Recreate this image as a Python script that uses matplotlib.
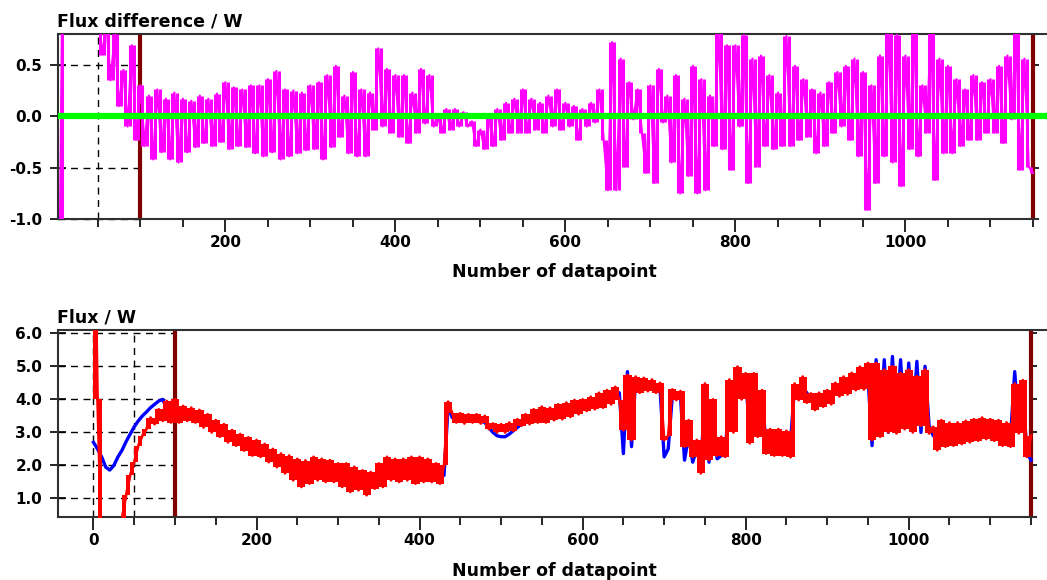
import numpy as np
import matplotlib.pyplot as plt
from matplotlib.ticker import MultipleLocator, FormatStrFormatter

plt.rcParams['font.family'] = 'DejaVu Sans'
plt.rcParams['font.weight'] = 'bold'
plt.rcParams['axes.unicode_minus'] = False

# one stored sample every STEP datapoints, starting at datapoint 0
STEP = 5

# measured minus calculated flux / W
flux_diff = [
    -4.0, -1.5, 2.8, 2.5, 2.2, 2.0, 1.8, 1.6, 1.4, 1.2,
    1.0, 0.6, 0.9, 0.35, 0.8, 0.1, 0.45, -0.1, 0.69, -0.23,
    0.3, -0.29, 0.2, -0.42, 0.26, -0.35, 0.17, -0.42, 0.23, -0.45,
    0.17, -0.35, 0.15, -0.3, 0.2, -0.26, 0.17, -0.29, 0.22, -0.25,
    0.33, -0.32, 0.28, -0.29, 0.26, -0.3, 0.3, -0.36, 0.3, -0.39,
    0.36, -0.35, 0.44, -0.42, 0.26, -0.39, 0.25, -0.36, 0.23, -0.33,
    0.3, -0.32, 0.33, -0.42, 0.4, -0.3, 0.49, -0.2, 0.2, -0.36,
    0.43, -0.39, 0.26, -0.39, 0.23, -0.13, 0.66, -0.1, 0.46, -0.16,
    0.4, -0.2, 0.4, -0.26, 0.23, -0.16, 0.46, -0.07, 0.4, -0.1,
    0.0, -0.16, 0.07, -0.13, 0.07, -0.1, 0.04, -0.1, -0.05, -0.29,
    -0.13, -0.32, 0.0, -0.29, 0.07, -0.23, 0.13, -0.16, 0.17, -0.16,
    0.26, -0.16, 0.17, -0.13, 0.13, -0.16, 0.2, -0.1, 0.26, -0.13,
    0.13, -0.1, 0.1, -0.23, 0.07, -0.1, 0.13, -0.06, 0.26, -0.23,
    -0.72, 0.72, -0.72, 0.56, -0.49, 0.33, -0.03, 0.26, -0.16, -0.55,
    0.3, -0.65, 0.46, -0.06, 0.2, -0.45, 0.4, -0.75, 0.17, -0.58,
    0.49, -0.75, 0.36, -0.72, 0.2, -0.29, 0.85, -0.32, 0.69, -0.52,
    0.69, -0.1, 0.79, -0.65, 0.56, -0.49, 0.59, -0.29, 0.4, -0.32,
    0.23, -0.29, 0.78, -0.29, 0.49, -0.23, 0.36, -0.2, 0.26, -0.36,
    0.23, -0.29, 0.33, -0.16, 0.43, -0.1, 0.49, -0.23, 0.56, -0.39,
    0.43, -0.91, 0.3, -0.65, 0.59, -0.39, 0.85, -0.45, 0.79, -0.68,
    0.59, -0.32, 0.85, -0.39, 0.3, -0.16, 0.85, -0.62, 0.56, -0.36,
    0.49, -0.36, 0.36, -0.29, 0.26, -0.23, 0.4, -0.23, 0.33, -0.16,
    0.36, -0.16, 0.49, -0.26, 0.59, -0.03, 0.85, -0.52, 0.56, -0.49,
    -0.55,
]

# calculated flux / W (red)
flux_calc = [
    12.0, 4.0, -0.5, -1.0, -1.0, -0.8, -0.2, 0.4, 1.1, 1.7,
    2.1, 2.6, 2.9, 3.1, 3.45, 3.25, 3.7, 3.35, 3.95, 3.3,
    4.0, 3.3, 3.8, 3.35, 3.75, 3.3, 3.68, 3.15, 3.55, 3.0,
    3.37, 2.87, 3.25, 2.7, 3.07, 2.6, 2.95, 2.45, 2.85, 2.3,
    2.77, 2.26, 2.65, 2.1, 2.5, 1.95, 2.36, 1.76, 2.3, 1.55,
    2.2, 1.35, 2.15, 1.45, 2.26, 1.55, 2.2, 1.5, 2.16, 1.5,
    2.06, 1.35, 2.06, 1.2, 1.96, 1.25, 1.85, 1.1, 1.8, 1.3,
    2.06, 1.35, 2.26, 1.55, 2.2, 1.5, 2.2, 1.55, 2.26, 1.45,
    2.26, 1.5, 2.2, 1.5, 2.06, 1.45, 2.0, 3.93, 3.58, 3.3,
    3.58, 3.27, 3.55, 3.3, 3.55, 3.27, 3.5, 3.1, 3.27, 3.0,
    3.25, 3.0, 3.3, 3.05, 3.4, 3.2, 3.55, 3.25, 3.7, 3.3,
    3.78, 3.3, 3.75, 3.37, 3.85, 3.4, 3.9, 3.47, 3.98, 3.55,
    4.0, 3.65, 4.08, 3.7, 4.2, 3.75, 4.28, 3.85, 4.38, 3.98,
    3.07, 4.74, 2.77, 4.69, 4.2, 4.65, 4.25, 4.6, 4.2, 4.5,
    2.77, 2.9, 4.3, 3.98, 4.25, 2.57, 3.37, 2.26, 2.77, 1.76,
    4.48, 2.16, 4.0, 2.3, 2.87, 2.26, 4.6, 3.0, 4.99, 4.0,
    4.79, 2.67, 4.79, 2.87, 4.28, 2.36, 3.1, 2.3, 3.1, 2.3,
    3.05, 2.25, 4.48, 3.98, 4.69, 3.9, 4.18, 3.68, 4.2, 3.78,
    4.28, 3.85, 4.5, 4.09, 4.69, 4.15, 4.8, 4.28, 4.99, 4.3,
    5.1, 2.77, 5.1, 2.87, 4.9, 3.0, 5.0, 2.97, 4.8, 3.1,
    4.9, 3.0, 4.7, 3.2, 4.9, 2.97, 3.17, 2.46, 3.37, 2.57,
    3.3, 2.6, 3.3, 2.65, 3.35, 2.7, 3.4, 2.75, 3.45, 2.8,
    3.4, 2.75, 3.37, 2.6, 3.3, 2.57, 4.48, 2.97, 4.58, 2.26,
    2.9,
]

# measured flux / W (blue)
flux_meas = [
    2.7, 2.5, 2.26, 1.95, 1.86, 2.0, 2.26, 2.46, 2.72, 2.95,
    3.17, 3.35, 3.5, 3.62, 3.75, 3.85, 3.95, 4.0, 3.7, 3.65,
    3.65, 3.6, 3.55, 3.55, 3.5, 3.5, 3.45, 3.4, 3.3, 3.25,
    3.1, 3.05, 3.0, 2.9, 2.85, 2.8, 2.7, 2.65, 2.6, 2.55,
    2.5, 2.45, 2.4, 2.3, 2.2, 2.15, 2.05, 2.0, 1.95, 1.9,
    1.8, 1.75, 1.8, 1.85, 1.9, 1.85, 1.85, 1.8, 1.8, 1.75,
    1.7, 1.7, 1.65, 1.6, 1.6, 1.55, 1.5, 1.45, 1.55, 1.6,
    1.7, 1.8, 1.85, 1.9, 1.85, 1.85, 1.9, 1.9, 1.85, 1.85,
    1.85, 1.85, 1.8, 1.8, 1.75, 1.7, 1.7, 3.8, 3.45, 3.4,
    3.4, 3.4, 3.4, 3.4, 3.4, 3.35, 3.3, 3.15, 3.0, 2.9,
    2.87, 2.87, 2.95, 3.05, 3.15, 3.25, 3.35, 3.4, 3.45, 3.5,
    3.5, 3.55, 3.55, 3.6, 3.6, 3.65, 3.7, 3.75, 3.75, 3.8,
    3.8, 3.85, 3.9, 3.9, 3.95, 4.0, 4.05, 4.1, 4.15, 4.2,
    2.36, 4.84, 2.57, 4.6, 4.5, 4.5, 4.45, 4.4, 4.4, 4.3,
    2.26, 2.5, 4.1, 4.1, 4.1, 2.16, 2.9, 2.1, 2.5, 1.9,
    4.3, 2.1, 3.7, 2.2, 2.3, 2.3, 4.5, 3.3, 4.95, 4.3,
    4.6, 3.0, 4.6, 3.0, 4.2, 2.6, 2.75, 2.7, 2.7, 2.65,
    2.65, 2.7, 4.4, 4.3, 4.35, 4.2, 3.95, 3.9, 4.0, 4.0,
    4.05, 4.1, 4.3, 4.3, 4.4, 4.4, 4.5, 4.55, 4.6, 4.65,
    4.7, 2.6, 5.2, 3.4, 5.2, 3.0, 5.3, 3.3, 5.2, 3.2,
    5.1, 3.3, 5.15, 3.0, 5.0, 3.2, 2.9, 2.85, 2.9, 2.9,
    2.95, 2.95, 2.95, 3.0, 3.0, 3.05, 3.1, 3.1, 3.1, 3.1,
    3.1, 3.05, 3.0, 2.95, 2.95, 2.9, 4.84, 3.2, 4.2, 2.4,
    2.16,
]

# fit window limits (datapoint numbers)
fit_limits = [100, 1150]

diff_yticks = [-1.0, -0.5, 0.0, 0.5]
flux_yticks = [1.0, 2.0, 3.0, 4.0, 5.0, 6.0]

n = np.arange(len(flux_diff)) * STEP

W, H = 1047, 580
fig = plt.figure(figsize=(W / 100, H / 100), dpi=100)

ax1 = fig.add_axes([58 / W, 1 - 219 / H, (W - 58) / W, 185 / H])
ax2 = fig.add_axes([58 / W, 1 - 517 / H, (W - 58) / W, 187 / H])

GRID = dict(colors='black', linestyles=(0, (5, 4)), linewidth=1.0,
            zorder=1, clip_on=False)


def setup(ax, xlim, ylim, yticks, xmajor, grid_x):
    ax.set_xlim(*xlim)
    ax.set_ylim(*ylim)
    ax.set_yticks(yticks)
    ax.yaxis.set_major_formatter(FormatStrFormatter('%.1f'))
    ax.set_xticks(xmajor)
    ax.xaxis.set_minor_locator(MultipleLocator(50))
    ax.tick_params(axis='x', which='major', direction='out', length=9.5,
                   width=1.2, pad=2, labelsize=11)
    ax.tick_params(axis='x', which='minor', direction='out', length=6,
                   width=1.2)
    ax.tick_params(axis='y', direction='inout', length=11.5, width=1.2,
                   pad=5.5, labelsize=11)
    for lab in ax.get_xticklabels() + ax.get_yticklabels():
        lab.set_fontweight('bold')
    for side in ('left', 'top', 'bottom'):
        ax.spines[side].set_color('#303030')
        ax.spines[side].set_linewidth(1.5)
    ax.spines['right'].set_visible(False)
    ax.spines['bottom'].set_bounds(xlim[0], fit_limits[1] + 6)

    # grid is only shown ahead of the fit window
    ax.hlines(yticks, xlim[0], fit_limits[0], **GRID)
    ax.vlines(grid_x, ylim[0], ylim[1], **GRID)

    # fit window markers
    for xv in fit_limits:
        ax.axvline(xv, color='#800000', linewidth=3, zorder=2)

    # short ticks on the right-hand limit of the window
    loc = (fit_limits[1] - xlim[0]) / (xlim[1] - xlim[0])
    sec = ax.secondary_yaxis(loc)
    sec.set_yticks(yticks)
    sec.tick_params(direction='out', length=4, width=1.2, labelright=False)
    for sp in sec.spines.values():
        sp.set_visible(False)


def segment_span(y):
    """Low and high end of each step between neighbouring samples."""
    y = np.asarray(y, dtype=float)
    return np.minimum(y[:-1], y[1:]), np.maximum(y[:-1], y[1:])


setup(ax1, (3.1, 1166.5), (-1.0, 0.8), diff_yticks,
      [200, 400, 600, 800, 1000], [50])
setup(ax2, (-43.5, 1169.6), (0.44, 6.1), flux_yticks,
      [0, 200, 400, 600, 800, 1000], [0, 50])

# flux difference: thin strokes between samples plus the trace itself
lo, hi = segment_span(flux_diff)
ax1.vlines(n[:-1] + STEP / 2, lo, hi, color='#ff00ff', linewidth=2.2,
           zorder=3)
ax1.plot(n, flux_diff, color='#ff00ff', linewidth=1.6, zorder=3)
ax1.axhline(0.0, color='#00ff00', linewidth=4.5, zorder=4)

# measured and calculated flux
ax2.plot(n, flux_meas, color='#0000ff', linewidth=2.4, zorder=3)
lo, hi = segment_span(flux_calc)
ax2.fill_between(n, np.append(lo, flux_calc[-1]), np.append(hi, flux_calc[-1]),
                 step='post', color='#ff0000', linewidth=0, zorder=4)
ax2.plot(n, flux_calc, color='#ff0000', linewidth=2.0, zorder=4)

TXT = dict(fontsize=12.5, fontweight='bold', va='baseline')
fig.text(57 / W, 1 - 27 / H, 'Flux difference / W', ha='left', **TXT)
fig.text(554 / W, 1 - 277 / H, 'Number of datapoint', ha='center', **TXT)
fig.text(57 / W, 1 - 323 / H, 'Flux / W', ha='left', **TXT)
fig.text(554 / W, 1 - 576 / H, 'Number of datapoint', ha='center', **TXT)

fig.savefig('out.png', dpi=100)
